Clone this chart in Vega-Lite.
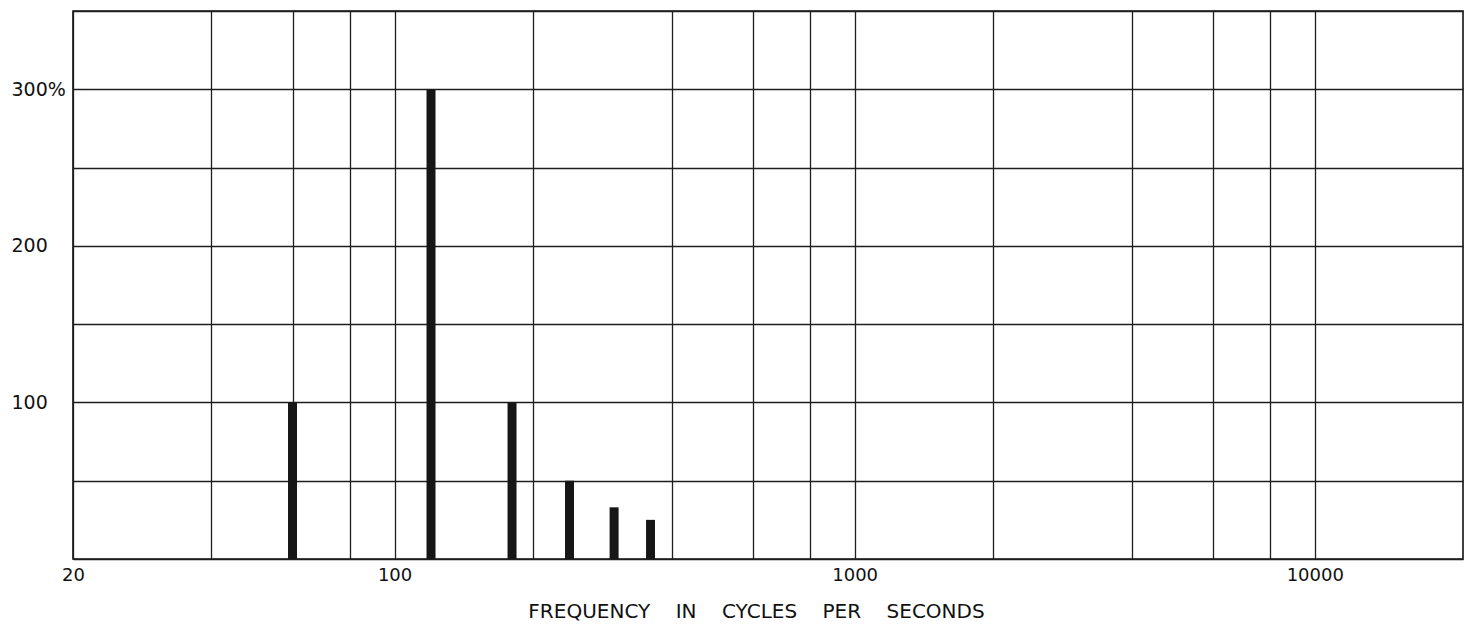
{
  "$schema": "https://vega.github.io/schema/vega-lite/v6.json",
  "width": 1390,
  "height": 548,
  "autosize": {"type": "none"},
  "padding": {"left": 73, "top": 11, "right": 10, "bottom": 69},
  "background": "white",
  "config": {
    "view": {"stroke": "#111111", "strokeWidth": 1.6},
    "font": "DejaVu Sans"
  },
  "data": {
    "values": [
      {"frequency": 60, "percent": 100},
      {"frequency": 120, "percent": 300},
      {"frequency": 180, "percent": 100},
      {"frequency": 240, "percent": 50},
      {"frequency": 300, "percent": 33},
      {"frequency": 360, "percent": 25}
    ]
  },
  "mark": {"type": "rule", "strokeWidth": 9, "color": "#161616", "strokeCap": "butt"},
  "encoding": {
    "x": {
      "field": "frequency",
      "type": "quantitative",
      "scale": {"type": "log", "domain": [20, 21000], "nice": false},
      "axis": {
        "values": [20, 40, 60, 80, 100, 200, 400, 600, 800, 1000, 2000, 4000, 6000, 8000, 10000],
        "grid": true,
        "gridColor": "#1e1e1e",
        "gridWidth": 1.3,
        "gridOpacity": 1,
        "domain": false,
        "ticks": false,
        "tickSize": 0,
        "labelFlush": false,
        "labelPadding": 7,
        "labelFontSize": 18,
        "labelColor": "#111111",
        "labelExpr": "(datum.value == 20 || datum.value == 100 || datum.value == 1000 || datum.value == 10000) ? format(datum.value, 'd') : ''",
        "title": "FREQUENCY\u00a0\u00a0\u00a0\u00a0IN\u00a0\u00a0\u00a0\u00a0CYCLES\u00a0\u00a0\u00a0\u00a0PER\u00a0\u00a0\u00a0\u00a0SECONDS",
        "titleFontSize": 20,
        "titleFontWeight": "normal",
        "titleColor": "#111111",
        "titleBaseline": "middle",
        "titleAlign": "center",
        "titleX": 683,
        "titleY": 52
      }
    },
    "y": {
      "field": "percent",
      "type": "quantitative",
      "scale": {"domain": [0, 350], "nice": false},
      "axis": {
        "values": [0, 50, 100, 150, 200, 250, 300, 350],
        "grid": true,
        "gridColor": "#1e1e1e",
        "gridWidth": 1.3,
        "gridOpacity": 1,
        "domain": false,
        "ticks": false,
        "tickSize": 0,
        "labelAlign": "left",
        "labelBaseline": "middle",
        "labelPadding": 62,
        "labelFontSize": 19,
        "labelColor": "#111111",
        "labelExpr": "datum.value == 300 ? '300%' : (datum.value == 100 || datum.value == 200) ? format(datum.value, 'd') : ''",
        "title": null
      }
    },
    "y2": {"datum": 0}
  }
}
